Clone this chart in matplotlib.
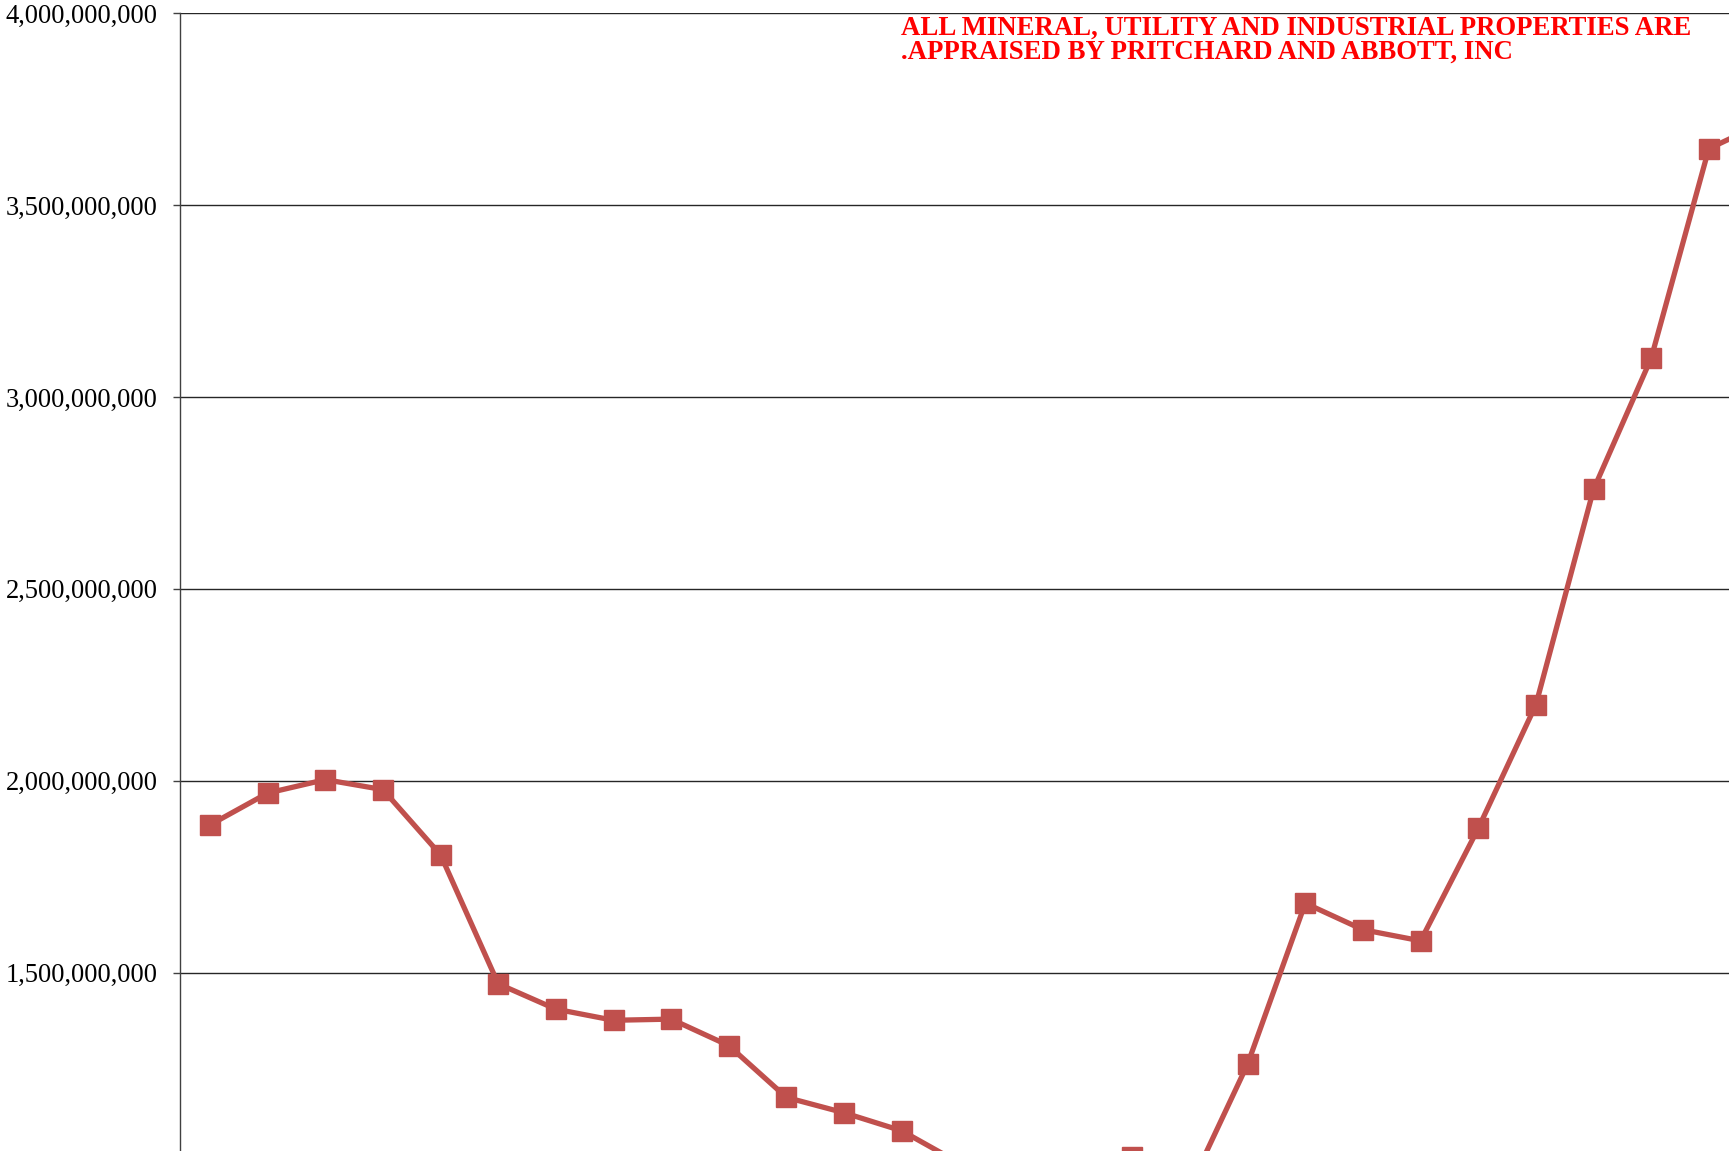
import matplotlib
matplotlib.use("Agg")
import matplotlib.pyplot as plt
import numpy as np
from matplotlib.ticker import FuncFormatter, MultipleLocator


# appraised value per year (in dollars); the chart is cropped, x labels are not visible
values = [
    1.885e9, 1.968e9, 2.003e9, 1.977e9, 1.807e9, 1.471e9, 1.405e9, 1.376e9,
    1.379e9, 1.310e9, 1.175e9, 1.135e9, 1.088e9, 1.004e9, 0.985e9, 1.000e9,
    1.021e9, 0.942e9, 1.262e9, 1.681e9, 1.612e9, 1.583e9, 1.876e9, 2.198e9,
    2.759e9, 3.101e9, 3.647e9, 3.718e9,
]
note_lines = [
    "ALL MINERAL, UTILITY AND INDUSTRIAL PROPERTIES ARE",
    ".APPRAISED BY PRITCHARD AND ABBOTT, INC",
]

LINE_COLOR = "#C0504D"

plt.rcParams["font.family"] = ["Liberation Serif", "DejaVu Serif"]

fig = plt.figure(figsize=(17.29, 11.51), dpi=100)
ax = fig.add_axes([180 / 1729, 0.0, 1 - 180 / 1729, 1 - 13.2 / 1151])

x = np.arange(len(values))
ax.plot(x, values, color=LINE_COLOR, lw=3.8, marker="s", ms=14.5,
        mfc=LINE_COLOR, mec=LINE_COLOR, zorder=3, clip_on=True)

ax.set_xlim(-0.52, 26.35)
ax.set_ylim(1.0354e9, 4.0e9)
ax.yaxis.set_major_locator(MultipleLocator(5e8))
ax.yaxis.set_major_formatter(FuncFormatter(lambda v, _: f"{v:,.0f}"))
ax.grid(axis="y", color="#262626", lw=1.0)
ax.set_axisbelow(True)
ax.tick_params(axis="y", length=5, width=1.0, color="#404040", pad=11,
               labelsize=19.1, labelcolor="black")
ax.set_xticks([])

for side in ("top", "right", "bottom"):
    ax.spines[side].set_visible(False)
ax.spines["left"].set_color("#404040")
ax.spines["left"].set_linewidth(1.0)

fig.text(901 / 1729, 1 - 28.5 / 1151, note_lines[0], color="red",
         fontsize=19.3, fontweight="bold", va="center", ha="left")
fig.text(901 / 1729, 1 - 52.5 / 1151, note_lines[1], color="red",
         fontsize=19.3, fontweight="bold", va="center", ha="left")

fig.savefig("out.png", dpi=100)
